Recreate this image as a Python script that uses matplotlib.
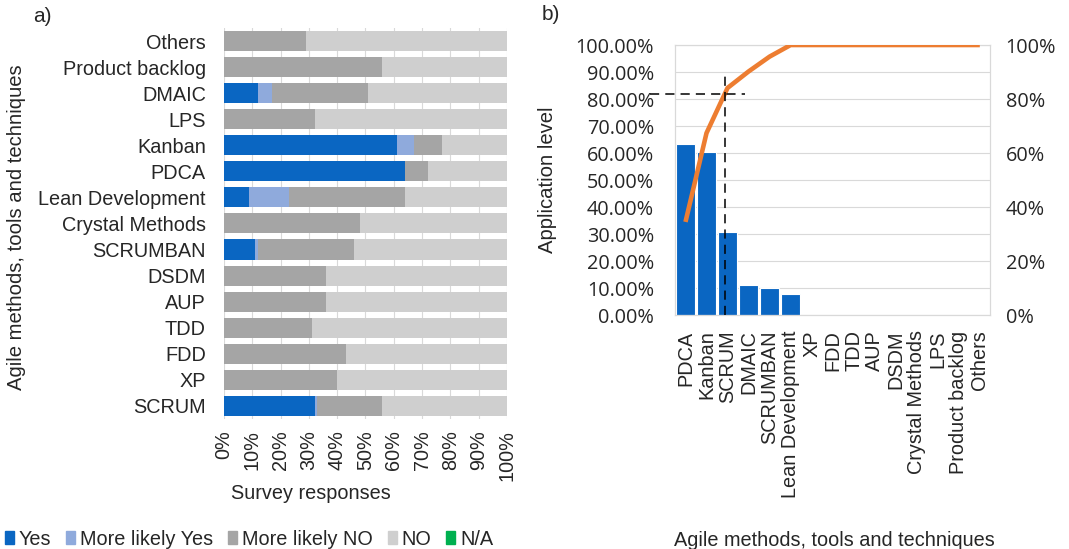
import matplotlib
matplotlib.use("Agg")
import matplotlib.pyplot as plt
from matplotlib.patches import Patch
from matplotlib.ticker import PercentFormatter

plt.rcParams['font.family'] = ['Liberation Sans', 'DejaVu Sans']

# ---- panel a) survey responses, rows listed top to bottom ----
methods = ["Others", "Product backlog", "DMAIC", "LPS", "Kanban", "PDCA",
           "Lean Development", "Crystal Methods", "SCRUMBAN", "DSDM", "AUP",
           "TDD", "FDD", "XP", "SCRUM"]
yes = [0, 0, 12, 0, 61, 64, 9, 0, 11, 0, 0, 0, 0, 0, 32]
likely_yes = [0, 0, 5, 0, 6, 0, 14, 0, 1, 0, 0, 0, 0, 0, 1]
likely_no = [29, 56, 34, 32, 10, 8, 41, 48, 34, 36, 36, 31, 43, 40, 23]
no = [71, 44, 49, 68, 23, 28, 36, 52, 54, 64, 64, 69, 57, 60, 44]
na = [0] * 15

# ---- panel b) pareto ----
pareto_cats = ["PDCA", "Kanban", "SCRUM", "DMAIC", "SCRUMBAN", "Lean Development",
               "XP", "FDD", "TDD", "AUP", "DSDM", "Crystal Methods", "LPS",
               "Product backlog", "Others"]
app_level = [63.3, 60.5, 30.6, 11.1, 10.1, 8.0, 0, 0, 0, 0, 0, 0, 0, 0, 0]
cumulative = [34.5, 67.4, 84.1, 90.2, 95.7, 100, 100, 100, 100, 100, 100, 100, 100, 100, 100]

c_yes = "#0A66C2"
c_ly = "#8FAADC"
c_ln = "#A5A5A5"
c_no = "#CFCFCF"
c_na = "#00B050"
c_line = "#ED7D31"
c_grid = "#D9D9D9"
c_txt = "#262626"
fs = 14.3

fig = plt.figure(figsize=(10.69, 5.49), dpi=100)

# a)
ax = fig.add_axes([0.2095, 0.237, 0.2647, 0.712])
pos = list(range(len(methods)))
left = [0] * len(methods)
for vals, col in [(yes, c_yes), (likely_yes, c_ly), (likely_no, c_ln), (no, c_no), (na, c_na)]:
    ax.barh(pos, vals, left=left, height=0.77, color=col, zorder=2)
    left = [l + v for l, v in zip(left, vals)]
ax.set_xlim(0, 100)
ax.set_ylim(len(methods) - 0.5, -0.5)
ax.set_yticks(pos)
ax.set_yticklabels(methods, fontsize=fs, color=c_txt)
ax.set_xticks(range(0, 101, 10))
ax.xaxis.set_major_formatter(PercentFormatter(decimals=0))
ax.tick_params(axis="x", rotation=90, labelsize=fs, colors=c_txt, length=0, pad=8)
ax.tick_params(axis="y", length=0, pad=13)
ax.grid(axis="x", color=c_grid, lw=0.8, zorder=0)
for s in ax.spines.values():
    s.set_visible(False)
ax.set_xlabel("Survey responses", fontsize=fs, color=c_txt)
ax.xaxis.set_label_coords(0.307, -0.166)
ax.set_ylabel("Agile methods, tools and techniques", fontsize=fs + 0.3, color=c_txt)
ax.yaxis.set_label_coords(-0.70, 0.49)
fig.text(0.031, 0.988, "a)", fontsize=15, va="top", color=c_txt)

handles = [Patch(color=c_yes, label="Yes"), Patch(color=c_ly, label="More likely Yes"),
           Patch(color=c_ln, label="More likely NO"), Patch(color=c_no, label="NO"),
           Patch(color=c_na, label="N/A")]
fig.legend(handles=handles, loc="lower left", bbox_to_anchor=(-0.012, -0.032), ncol=5,
           frameon=False, fontsize=fs, handlelength=0.45, handleheight=0.6,
           handletextpad=0.25, columnspacing=0.75, labelcolor=c_txt)

# b)
bx = fig.add_axes([0.6314, 0.426, 0.295, 0.492])
xp = list(range(len(pareto_cats)))
bx.bar(xp, app_level, width=0.9, color=c_yes, edgecolor="white", lw=0.8, zorder=2)
bx.set_xlim(-0.5, len(pareto_cats) - 0.5)
bx.set_ylim(0, 100)
bx.set_yticks(range(0, 101, 10))
bx.yaxis.set_major_formatter(PercentFormatter(decimals=2))
bx.tick_params(axis="y", labelsize=fs, colors=c_txt, length=0, pad=15)
bx.set_xticks(xp)
bx.set_xticklabels(pareto_cats, rotation=90, fontsize=fs, color=c_txt)
bx.tick_params(axis="x", length=0, pad=11)
bx.grid(axis="y", color=c_grid, lw=0.8, zorder=0)
for s in bx.spines.values():
    s.set_color(c_grid)
for lab in bx.get_yticklabels():
    lab.set_family(["Open Sans", "DejaVu Sans"])
bx.set_ylabel("Application level", fontsize=fs + 0.3, color=c_txt)
bx.yaxis.set_label_coords(-0.375, 0.5)
bx.set_xlabel("Agile methods, tools and techniques", fontsize=fs, color=c_txt)
bx.xaxis.set_label_coords(0.505, -0.80)

bx2 = bx.twinx()
bx2.plot(xp, cumulative, color=c_line, lw=3.3, zorder=3, solid_capstyle="butt")
bx2.set_ylim(0, 100)
bx2.set_yticks(range(0, 101, 20))
bx2.yaxis.set_major_formatter(PercentFormatter(decimals=0))
bx2.tick_params(axis="y", labelsize=fs, colors=c_txt, length=0, pad=11)
for lab in bx2.get_yticklabels():
    lab.set_family(["Open Sans", "DejaVu Sans"])
for s in bx2.spines.values():
    s.set_color(c_grid)

# 80% guide lines
bx2.plot([-1.7, 2.85], [82, 82], color="black", lw=1.1, ls=(0, (6, 4)), clip_on=False, zorder=4)
bx2.plot([1.9, 1.9], [0, 90], color="black", lw=1.1, ls=(0, (6, 4)), zorder=4)

fig.text(0.507, 0.99, "b)", fontsize=15, va="top", color=c_txt)

fig.savefig("out.png", dpi=100)
